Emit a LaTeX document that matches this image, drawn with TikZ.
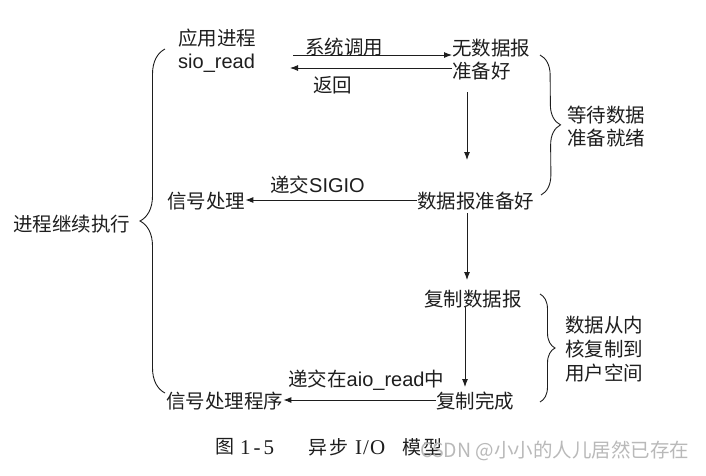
\documentclass[tikz,border=0pt]{standalone}
\usepackage{fontspec}
\setmainfont{Liberation Sans}
\newfontfamily\cjk{Noto Sans CJK SC}
\newfontfamily\latf{Liberation Sans}
\newfontfamily\capser{Liberation Serif}
\usetikzlibrary{arrows.meta,decorations.pathreplacing}
\definecolor{ink}{HTML}{1E1E1E}
\newcommand\latw[1]{{\latf\fontsize{20}{23}\selectfont #1}}
\begin{document}
\begin{tikzpicture}[x=1pt,y=-1pt,
  txt/.style={inner sep=0pt, anchor=west, text=ink, align=left,
    font=\cjk\fontsize{19.5}{23}\selectfont},
  arr/.style={draw=ink, line width=0.9pt, -{Latex[length=8pt,width=6pt]}},
  brc/.style={draw=ink, line width=0.9pt, decorate, decoration={brace, amplitude=#1}},
  captxt/.style={inner sep=0pt, anchor=west, text=ink, font=\cjk\fontsize{19}{20}\selectfont},
  capser/.style={inner sep=0pt, anchor=west, text=ink, font=\capser\fontsize{21}{22}\selectfont},
  wmtxt/.style={inner sep=0pt, anchor=west, text=gray!55, font=\cjk\fontsize{19.5}{20}\selectfont}]
\fill[white] (0,0) rectangle (706,475);
\useasboundingbox (0,0) rectangle (706,475);

% nodes
\node[txt] (app) at (178,51) {应用进程\\\latw{sio\_read}};
\node[txt] (nodata) at (452,60) {无数据报\\准备好};
\node[txt] (wait) at (567,127) {等待数据\\准备就绪};
\node[txt] (ready) at (417,201) {数据报准备好};
\node[txt] (sig) at (167,201) {信号处理};
\node[txt] (cont) at (13,224) {进程继续执行};
\node[txt] (copy) at (424,299) {复制数据报};
\node[txt] (done) at (436,401) {复制完成};
\node[txt] (handler) at (166,401) {信号处理程序};
\node[txt, font=\cjk\fontsize{19.5}{24}\selectfont] (kernel) at (565,349) {数据从内\\核复制到\\用户空间};

% labels on arrows
\node[txt] (lcall) at (305,47) {系统调用};
\node[txt] (lret) at (313,85) {返回};
\node[txt] (lsig) at (270,185) {递交\latw{SIGIO}};
\node[txt] (laio) at (288,380) {递交在\latw{aio\_read}中};

% coordinates for free ends
\coordinate (callstart) at (293,55);
\coordinate (retend) at (290,68);
\coordinate (v1a) at (467,92);
\coordinate (v1b) at (467,160);
\coordinate (v2a) at (467,213);
\coordinate (v2b) at (467,280);
\coordinate (v3a) at (465,307);
\coordinate (v3b) at (465,387);

% arrows
\draw[arr] (callstart) -- (callstart -| nodata.west);
\draw[arr] (retend -| nodata.west) -- (retend);
\draw[arr] (v1a) -- (v1b);
\draw[arr] (ready.west |- 0,200) -- (sig.east |- 0,200);
\draw[arr] (v2a) -- (v2b);
\draw[arr] (v3a) -- (v3b);
\draw[arr] (done.west |- 0,400) -- (handler.east |- 0,400);

% braces
\coordinate (b1t) at (540,55);
\coordinate (b1b) at (541,195);
\draw[brc=20pt] (b1t) -- (b1b);
\coordinate (b2t) at (165,49);
\coordinate (b2b) at (165,393);
\draw[brc=25pt] (b2b) -- (b2t);
\coordinate (b3t) at (540,294);
\coordinate (b3b) at (540,402);
\draw[brc=15pt] (b3t) -- (b3b);

% caption
\node[captxt] (c1) at (215,447) {图};
\node[capser] (c2) at (240,448) {1\kern3pt-\kern3pt5};
\node[captxt] (c3) at (308,447) {异\kern2pt步};
\node[capser] (c4) at (355,448) {I\kern1pt/\kern1pt O};
\node[captxt] (c5) at (402,447) {模\kern2pt型};

% watermark
\node[wmtxt] (wmk) at (420,451) {CSDN @小小的人儿居然已存在};
\end{tikzpicture}
\end{document}
